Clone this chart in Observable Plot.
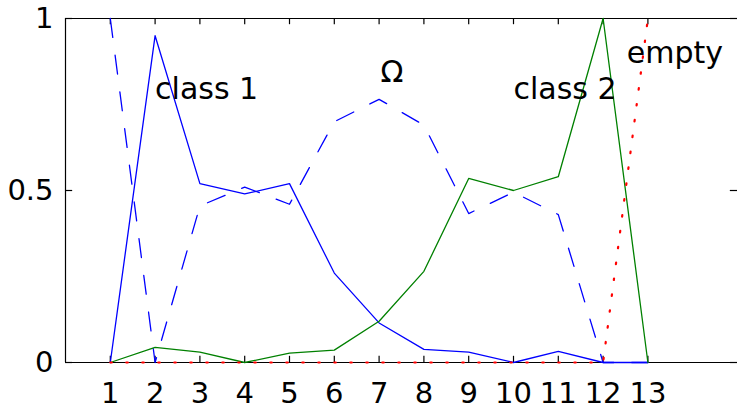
<!DOCTYPE html>
<html>
<head>
<meta charset="utf-8">
<script src="https://cdn.jsdelivr.net/npm/d3@7"></script>
<script src="https://cdn.jsdelivr.net/npm/@observablehq/plot@0.6"></script>
<style>
  html, body { margin: 0; padding: 0; background: #fff; }
  #chart svg { display: block; }
</style>
</head>
<body>
<div id="chart"></div>
<script>
const xs = [1, 2, 3, 4, 5, 6, 7, 8, 9, 10, 11, 12, 13];
const class1 = [0, 0.95, 0.52, 0.49, 0.52, 0.26, 0.115, 0.038, 0.03, 0, 0.032, 0, 0];
const omega  = [1, 0, 0.455, 0.51, 0.46, 0.70, 0.765, 0.69, 0.433, 0.495, 0.43, 0, 0];
const class2 = [0, 0.044, 0.03, 0, 0.027, 0.036, 0.12, 0.265, 0.535, 0.50, 0.54, 1, 0];
const empty  = [0, 0, 0, 0, 0, 0, 0, 0, 0, 0, 0, 0, 1];
const xTicks = [1, 2, 3, 4, 5, 6, 7, 8, 9, 10, 11, 12, 13];
const yTicks = [0, 0.5, 1];
const labelNames = ["class 1", "Ω", "class 2", "empty"];
const labelX = [2, 7.29, 10, 12.53];
const labelY = [0.765, 0.814, 0.765, 0.87];
const labelAnchor = ["start", "middle", "start", "start"];

const series = (vals) => xs.map((x, i) => ({x, y: vals[i]}));
const labels = labelNames.map((t, i) => ({t, x: labelX[i], y: labelY[i], a: labelAnchor[i]}));

const font = "DejaVu Sans, Liberation Sans, Arial, sans-serif";
const fs = 30;
const tfs = 29;

const chart = Plot.plot({
  width: 737,
  height: 410,
  marginLeft: 65,
  marginRight: 0,
  marginTop: 18,
  marginBottom: 48,
  style: {fontFamily: font, fontSize: fs + "px", background: "#fff", color: "black"},
  x: {domain: [0, 15]},
  y: {domain: [0, 1]},
  marks: [
    Plot.ruleY([0, 1], {stroke: "black", strokeWidth: 1.2}),
    Plot.ruleX([0], {stroke: "black", strokeWidth: 1.2}),
    // inward tick marks (Matlab style)
    Plot.ruleX(xTicks, {x: d => d, y1: 0, y2: 0.018, stroke: "black", strokeWidth: 1.2}),
    Plot.ruleX(xTicks, {x: d => d, y1: 0.982, y2: 1, stroke: "black", strokeWidth: 1.2}),
    Plot.ruleY(yTicks, {y: d => d, x1: 0, x2: 0.16, stroke: "black", strokeWidth: 1.2}),
    Plot.ruleY(yTicks, {y: d => d, x1: 14.84, x2: 15, stroke: "black", strokeWidth: 1.2}),
    Plot.axisX({anchor: "bottom", ticks: xTicks, tickSize: 0, tickPadding: 20, tickFormat: d => String(d), fontSize: tfs, label: null}),
    Plot.axisY({anchor: "left", ticks: yTicks, tickSize: 0, tickPadding: 12, tickFormat: d => String(d), fontSize: tfs, label: null}),
    Plot.line(series(class1), {x: "x", y: "y", stroke: "#0000ff", strokeWidth: 1.3}),
    Plot.line(series(omega), {x: "x", y: "y", stroke: "#0000ff", strokeWidth: 1.3, strokeDasharray: "19,18"}),
    Plot.line(series(class2), {x: "x", y: "y", stroke: "#008000", strokeWidth: 1.3}),
    Plot.line(series(empty), {x: "x", y: "y", stroke: "#ff0000", strokeWidth: 2.2, strokeDasharray: "1.5,14.5", strokeLinecap: "round"}),
    Plot.text(labels.filter(d => d.a === "start"), {x: "x", y: "y", text: "t", textAnchor: "start", lineAnchor: "bottom", fontSize: fs, fill: "black"}),
    Plot.text(labels.filter(d => d.a === "middle"), {x: "x", y: "y", text: "t", textAnchor: "middle", lineAnchor: "bottom", fontSize: fs, fill: "black"})
  ]
});
document.getElementById("chart").appendChild(chart);
</script>
</body>
</html>
